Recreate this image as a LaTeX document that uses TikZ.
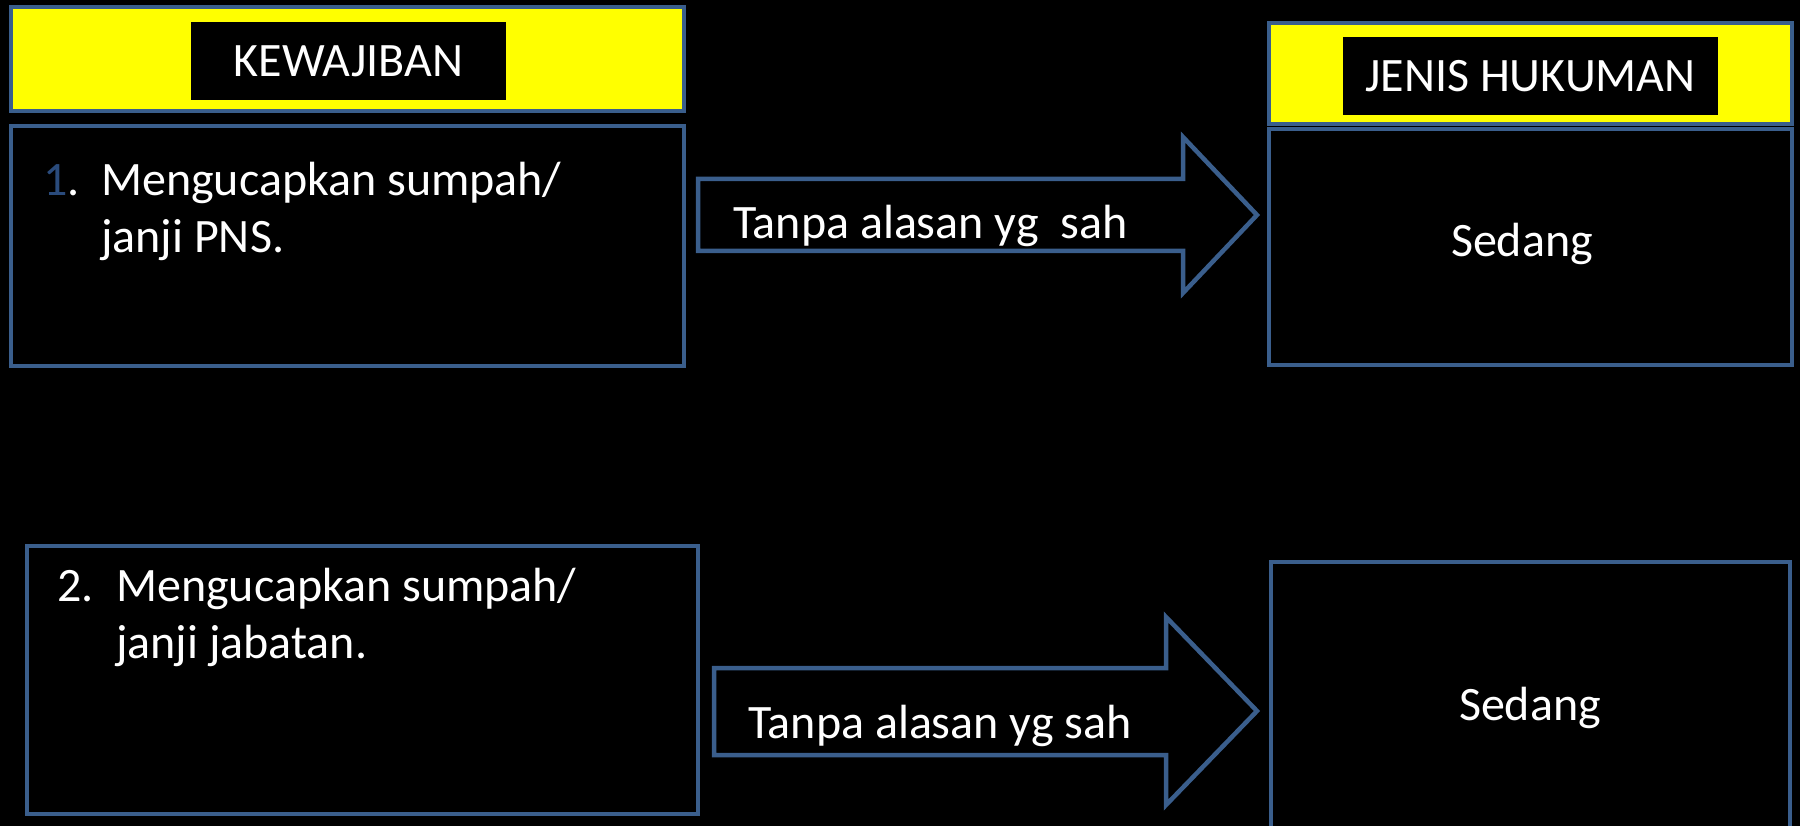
\documentclass[tikz,border=0pt]{standalone}
\usepackage{fontspec}
\setmainfont{Carlito}
\definecolor{bordc}{HTML}{3A5E8C}
\definecolor{numc}{HTML}{2A4B7C}
\definecolor{yel}{HTML}{FFFF00}
\begin{document}
\begin{tikzpicture}[x=1pt,y=-1pt,
  frame/.style={draw=bordc,line width=4.5pt,fill=black,inner sep=0pt},
  head/.style={draw=bordc,line width=4.5pt,fill=yel,inner sep=0pt},
  label/.style={fill=black,inner sep=0pt},
  txt/.style={text=white,inner sep=0pt,font=\fontsize{48}{58}\selectfont},
  blockarrow/.style={draw=bordc,line width=4.5pt,fill=black,line join=miter}]
\useasboundingbox (0,0) rectangle (1800,826);
\fill[black] (0,0) rectangle (1800,826);
\clip (0,0) rectangle (1800,826);
% left column
\node[head,minimum width=673pt,minimum height=104pt] (kh) at (347.5,59) {};
\node[label,minimum width=315pt,minimum height=78pt] (kl) at (348.5,61) {};
\node[txt,anchor=base] (kt) at (348.5,77) {KEWAJIBAN};
\node[frame,minimum width=673pt,minimum height=240pt] (b1) at (347.5,246) {};
\node[txt,anchor=base west] (n1) at (43,196) {\textcolor{numc}{1}.};
\node[txt,anchor=base west] (t1a) at (101,196) {Mengucapkan sumpah/};
\node[txt,anchor=base west] (t1b) at (101,253) {janji PNS.};
\node[frame,minimum width=671pt,minimum height=268pt] (b2) at (362.5,680) {};
\node[txt,anchor=base west] (n2) at (57,601) {2.};
\node[txt,anchor=base west] (t2a) at (116,601) {Mengucapkan sumpah/};
\node[txt,anchor=base west] (t2b) at (116,658) {janji jabatan.};
% right column
\node[head,minimum width=523pt,minimum height=101pt] (jh) at (1530.5,73.5) {};
\node[label,minimum width=375pt,minimum height=78pt] (jl) at (1530.5,76) {};
\node[txt,anchor=base] (jt) at (1530.5,92) {JENIS HUKUMAN};
\node[frame,minimum width=523pt,minimum height=236pt] (r1) at (1530.5,247) {};
\node[txt,anchor=base] (s1) at (1522,257) {Sedang};
\node[frame,minimum width=519pt,minimum height=280pt] (r2) at (1530.5,702) {};
\node[txt,anchor=base] (s2) at (1530,720) {Sedang};
% arrows
\coordinate (a1) at (698,179);
\coordinate (a1t) at (1257,215);
\draw[blockarrow] (a1) -- (1183,179) -- (1183,137) -- (a1t) -- (1183,293) -- (1183,251) -- (698,251) -- cycle;
\node[txt,anchor=base west] (at1) at (733,239) {Tanpa alasan yg\ \ sah};
\coordinate (a2) at (714,668);
\coordinate (a2t) at (1257,711);
\draw[blockarrow] (a2) -- (1166,668) -- (1166,617) -- (a2t) -- (1166,805) -- (1166,755) -- (714,755) -- cycle;
\node[txt,anchor=base west] (at2) at (748,738) {Tanpa alasan yg sah};
\end{tikzpicture}
\end{document}
